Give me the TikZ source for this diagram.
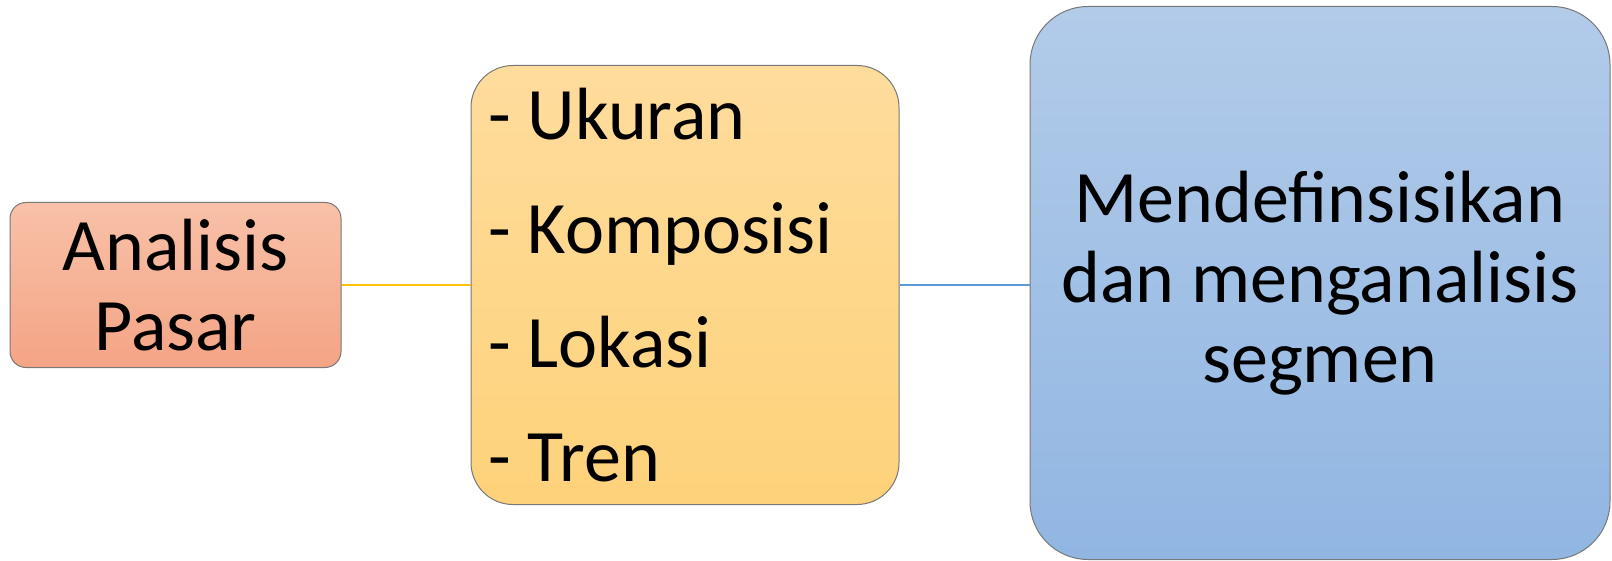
\documentclass[tikz,border=0pt]{standalone}
\usepackage{fontspec}
\setmainfont{Carlito}
\definecolor{pinkT}{RGB}{248,193,168}
\definecolor{pinkB}{RGB}{244,164,133}
\definecolor{oraT}{RGB}{254,220,156}
\definecolor{oraB}{RGB}{254,210,122}
\definecolor{bluT}{RGB}{178,203,233}
\definecolor{bluB}{RGB}{145,182,226}
\definecolor{edgeC}{RGB}{120,120,120}
\definecolor{lineY}{RGB}{255,192,0}
\definecolor{lineB}{RGB}{91,155,213}
\newcommand{\dashitem}[1]{-\hspace{8.6pt}#1}
\begin{document}
\begin{tikzpicture}[x=0.5pt,y=-0.5pt,
  boxbase/.style={draw=edgeC, line width=0.5pt, inner sep=0pt, text=black},
  bigtext/.style={font=\fontsize{37pt}{40pt}\selectfont}]
\useasboundingbox (0,0) rectangle (1612,561);
\node[boxbase, bigtext, rounded corners=8pt, top color=pinkT, bottom color=pinkB,
  minimum width=165.5pt, minimum height=82.5pt, align=center] (pasar) at (175.5,285)
  {Analisis\\Pasar};
\node[boxbase, rounded corners=21pt, top color=oraT, bottom color=oraB,
  minimum width=214pt, minimum height=219.5pt, inner xsep=8.5pt,
  text width=197pt, align=left, font=\fontsize{37pt}{57pt}\selectfont] (list) at (685,285)
  {\dashitem{Ukuran}\\\dashitem{Komposisi}\\\dashitem{Lokasi}\\\dashitem{Tren}};
\node[boxbase, bigtext, rounded corners=29pt, top color=bluT, bottom color=bluB,
  minimum width=290pt, minimum height=276.5pt, align=center] (seg) at (1320,283)
  {Mendefinsisikan\\dan menganalisis\\segmen};
\draw[lineY, line width=1.2pt] (pasar.east) -- (list.west);
\draw[lineB, line width=1.2pt] (list.east) -- (list.east -| seg.west);
\end{tikzpicture}
\end{document}
